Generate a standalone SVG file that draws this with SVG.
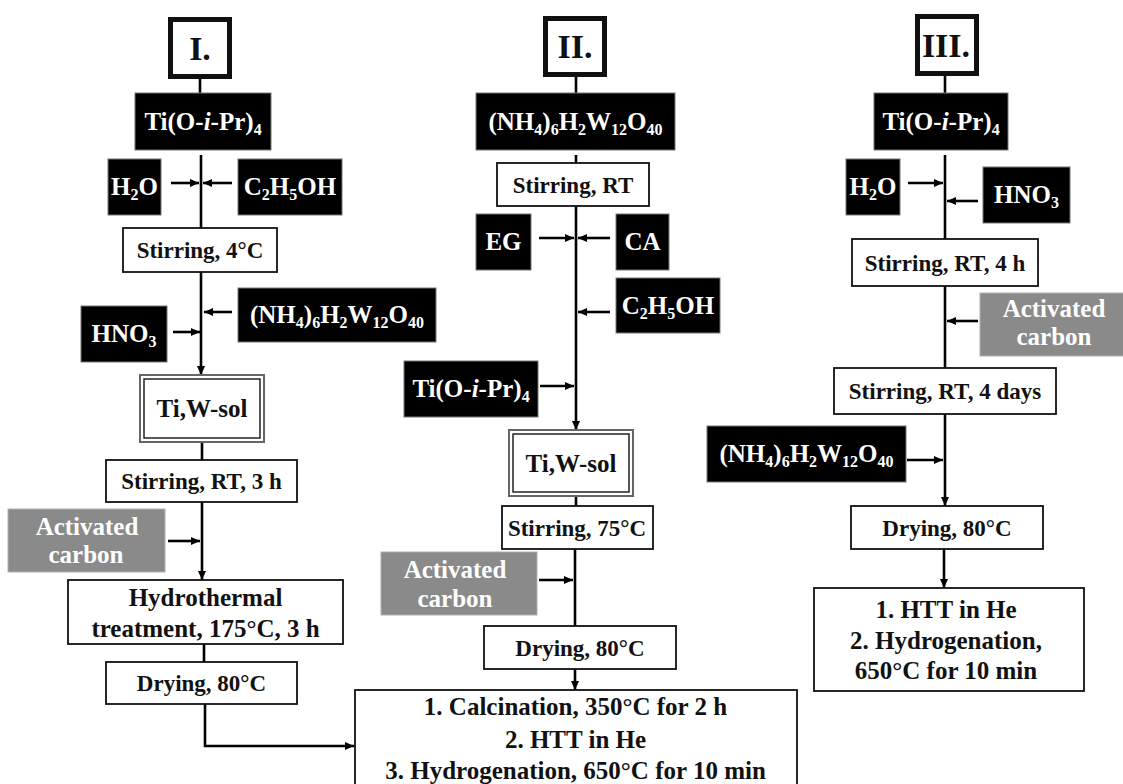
<svg xmlns="http://www.w3.org/2000/svg" width="1123" height="784" viewBox="0 0 1123 784">
<style>
text{font-family:"Liberation Serif","Times New Roman",serif;font-weight:bold;text-anchor:middle}
.t{font-size:23px;fill:#111}
.tb{font-size:25px;fill:#111}
.w{font-size:25px;fill:#fff}
.ti{font-size:34px;font-weight:bold;fill:#111}
.sb{font-size:16px}
.blk{fill:#000;stroke:#777;stroke-width:1}
.gry{fill:#8a8a8a;stroke:#b0b0b0;stroke-width:1}
.box{fill:#fff;stroke:#111;stroke-width:1.8}
.hd{fill:#fff;stroke:#111;stroke-width:5}
.dbo{fill:#fff;stroke:#666;stroke-width:2}
.dbi{fill:none;stroke:#222;stroke-width:1.5}
.ln{fill:none;stroke:#000;stroke-width:2.6}
.ar{fill:none;stroke:#000;stroke-width:2.6;marker-end:url(#ah)}
</style>
<defs>
<marker id="ah" markerUnits="userSpaceOnUse" markerWidth="10" markerHeight="10" refX="9" refY="4" orient="auto">
<path d="M0,0 L9,4 L0,8 z" fill="#000"/>
</marker>
</defs>
<rect width="1123" height="784" fill="#fff"/>

<g id="connectors">
<!-- Column I -->
<path class="ln" d="M200,79 V93"/>
<path class="ln" d="M201,155 V228"/>
<path class="ar" d="M171,183 H199"/>
<path class="ar" d="M232,183 H203"/>
<path class="ar" d="M201,272 V375"/>
<path class="ar" d="M173,332 H200"/>
<path class="ar" d="M232,312 H204"/>
<path class="ln" d="M202,442 V460"/>
<path class="ar" d="M202,502 V580"/>
<path class="ar" d="M168,541 H200"/>
<path class="ln" d="M204,644 V662"/>
<path class="ar" d="M205,704 V746 H354"/>
<!-- Column II -->
<path class="ln" d="M576,77 V93"/>
<path class="ln" d="M576,155 V163"/>
<path class="ar" d="M576,206 V430"/>
<path class="ar" d="M539,238 H574"/>
<path class="ar" d="M610,238 H578"/>
<path class="ar" d="M610,312 H578"/>
<path class="ar" d="M540,386 H574"/>
<path class="ln" d="M576,496 V506"/>
<path class="ln" d="M575,549 V626"/>
<path class="ar" d="M539,580 H573"/>
<path class="ar" d="M575,669 V690"/>
<!-- Column III -->
<path class="ln" d="M945,76 V93"/>
<path class="ln" d="M945,155 V239"/>
<path class="ar" d="M908,183 H943"/>
<path class="ar" d="M978,201 H947"/>
<path class="ln" d="M945,286 V368"/>
<path class="ar" d="M978,321 H947"/>
<path class="ar" d="M945,414 V506"/>
<path class="ar" d="M907,460 H943"/>
<path class="ar" d="M944,549 V588"/>
</g>

<!-- Column I nodes -->
<g id="n1-title"><rect class="hd" x="170.5" y="19.5" width="59" height="57"/><text class="ti" x="200" y="60">I.</text></g>
<g id="n1-ti"><rect class="blk" x="135" y="93" width="136" height="57"/><text class="w" x="203" y="130">Ti(O-<tspan font-style="italic">i</tspan>-Pr)<tspan class="sb" dy="5">4</tspan></text></g>
<g id="n1-h2o"><rect class="blk" x="108" y="159" width="53" height="56"/><text class="w" x="134.5" y="195">H<tspan class="sb" dy="5">2</tspan><tspan dy="-5">O</tspan></text></g>
<g id="n1-etoh"><rect class="blk" x="238" y="159" width="104" height="56"/><text class="w" x="290" y="195">C<tspan class="sb" dy="5">2</tspan><tspan dy="-5">H</tspan><tspan class="sb" dy="5">5</tspan><tspan dy="-5">OH</tspan></text></g>
<g id="n1-stir4"><rect class="box" x="123" y="228" width="154" height="44"/><text class="t" x="200" y="258">Stirring, 4°C</text></g>
<g id="n1-hno3"><rect class="blk" x="81" y="306" width="86" height="56"/><text class="w" x="124" y="342">HNO<tspan class="sb" dy="5">3</tspan></text></g>
<g id="n1-amt"><rect class="blk" x="238" y="288" width="198" height="54"/><text class="w" x="337" y="323">(NH<tspan class="sb" dy="5">4</tspan><tspan dy="-5">)</tspan><tspan class="sb" dy="5">6</tspan><tspan dy="-5">H</tspan><tspan class="sb" dy="5">2</tspan><tspan dy="-5">W</tspan><tspan class="sb" dy="5">12</tspan><tspan dy="-5">O</tspan><tspan class="sb" dy="5">40</tspan></text></g>
<g id="n1-sol"><rect class="dbo" x="140" y="375" width="124" height="67"/><rect class="dbi" x="144" y="379" width="116" height="59"/><text class="tb" x="202" y="417">Ti,W-sol</text></g>
<g id="n1-stir3h"><rect class="box" x="106" y="460" width="191" height="42"/><text class="t" x="201.5" y="489">Stirring, RT, 3 h</text></g>
<g id="n1-ac"><rect class="gry" x="8" y="509" width="157" height="63"/><text class="w" x="87" y="535">Activated</text><text class="w" x="86" y="563">carbon</text></g>
<g id="n1-hydro"><rect class="box" x="68" y="580" width="275" height="64"/><text class="tb" x="205.5" y="606">Hydrothermal</text><text class="tb" x="205.5" y="637">treatment, 175°C, 3 h</text></g>
<g id="n1-dry"><rect class="box" x="106" y="662" width="191" height="42"/><text class="t" x="201.5" y="691">Drying, 80°C</text></g>

<!-- Column II nodes -->
<g id="n2-title"><rect class="hd" x="545.5" y="18.5" width="59" height="56"/><text class="ti" x="575" y="58">II.</text></g>
<g id="n2-amt"><rect class="blk" x="476" y="93" width="199" height="57"/><text class="w" x="575.5" y="130">(NH<tspan class="sb" dy="5">4</tspan><tspan dy="-5">)</tspan><tspan class="sb" dy="5">6</tspan><tspan dy="-5">H</tspan><tspan class="sb" dy="5">2</tspan><tspan dy="-5">W</tspan><tspan class="sb" dy="5">12</tspan><tspan dy="-5">O</tspan><tspan class="sb" dy="5">40</tspan></text></g>
<g id="n2-stir"><rect class="box" x="497" y="163" width="152" height="43"/><text class="t" x="573" y="193">Stirring, RT</text></g>
<g id="n2-eg"><rect class="blk" x="476" y="214" width="55" height="56"/><text class="w" x="503.5" y="250">EG</text></g>
<g id="n2-ca"><rect class="blk" x="616" y="214" width="53" height="56"/><text class="w" x="642.5" y="250">CA</text></g>
<g id="n2-etoh"><rect class="blk" x="616" y="278" width="104" height="55"/><text class="w" x="668" y="314">C<tspan class="sb" dy="5">2</tspan><tspan dy="-5">H</tspan><tspan class="sb" dy="5">5</tspan><tspan dy="-5">OH</tspan></text></g>
<g id="n2-ti"><rect class="blk" x="404" y="361" width="134" height="56"/><text class="w" x="471" y="397">Ti(O-<tspan font-style="italic">i</tspan>-Pr)<tspan class="sb" dy="5">4</tspan></text></g>
<g id="n2-sol"><rect class="dbo" x="509" y="430" width="124" height="66"/><rect class="dbi" x="513" y="434" width="116" height="58"/><text class="tb" x="571" y="472">Ti,W-sol</text></g>
<g id="n2-stir75"><rect class="box" x="502" y="506" width="151" height="43"/><text class="t" x="577" y="536">Stirring, 75°C</text></g>
<g id="n2-ac"><rect class="gry" x="381" y="552" width="156" height="63"/><text class="w" x="455" y="578">Activated</text><text class="w" x="455" y="607">carbon</text></g>
<g id="n2-dry"><rect class="box" x="484" y="626" width="192" height="43"/><text class="t" x="580" y="656">Drying, 80°C</text></g>
<g id="n2-final"><rect class="box" x="355" y="690" width="442" height="110"/><text class="tb" x="575.5" y="715">1. Calcination, 350°C for 2 h</text><text class="tb" x="575.5" y="748">2. HTT in He</text><text class="tb" x="575.5" y="779">3. Hydrogenation, 650°C for 10 min</text></g>

<!-- Column III nodes -->
<g id="n3-title"><rect class="hd" x="917.5" y="16.5" width="59" height="57"/><text class="ti" x="946" y="57">III.</text></g>
<g id="n3-ti"><rect class="blk" x="874" y="93" width="134" height="57"/><text class="w" x="941" y="130">Ti(O-<tspan font-style="italic">i</tspan>-Pr)<tspan class="sb" dy="5">4</tspan></text></g>
<g id="n3-h2o"><rect class="blk" x="846" y="159" width="54" height="56"/><text class="w" x="873" y="195">H<tspan class="sb" dy="5">2</tspan><tspan dy="-5">O</tspan></text></g>
<g id="n3-hno3"><rect class="blk" x="983" y="167" width="87" height="56"/><text class="w" x="1026.5" y="203">HNO<tspan class="sb" dy="5">3</tspan></text></g>
<g id="n3-stir4h"><rect class="box" x="852" y="239" width="186" height="47"/><text class="t" x="945" y="271">Stirring, RT, 4 h</text></g>
<g id="n3-ac"><rect class="gry" x="980" y="293" width="150" height="63"/><text class="w" x="1054" y="317">Activated</text><text class="w" x="1054" y="345">carbon</text></g>
<g id="n3-stir4d"><rect class="box" x="834" y="368" width="222" height="46"/><text class="t" x="945" y="399">Stirring, RT, 4 days</text></g>
<g id="n3-amt"><rect class="blk" x="707" y="426" width="199" height="56"/><text class="w" x="806.5" y="462">(NH<tspan class="sb" dy="5">4</tspan><tspan dy="-5">)</tspan><tspan class="sb" dy="5">6</tspan><tspan dy="-5">H</tspan><tspan class="sb" dy="5">2</tspan><tspan dy="-5">W</tspan><tspan class="sb" dy="5">12</tspan><tspan dy="-5">O</tspan><tspan class="sb" dy="5">40</tspan></text></g>
<g id="n3-dry"><rect class="box" x="851" y="506" width="192" height="43"/><text class="t" x="947" y="536">Drying, 80°C</text></g>
<g id="n3-final"><rect class="box" x="814" y="588" width="270" height="103"/><text class="tb" x="946" y="618">1. HTT in He</text><text class="tb" x="946" y="649">2. Hydrogenation,</text><text class="tb" x="946" y="679">650°C for 10 min</text></g>
</svg>
